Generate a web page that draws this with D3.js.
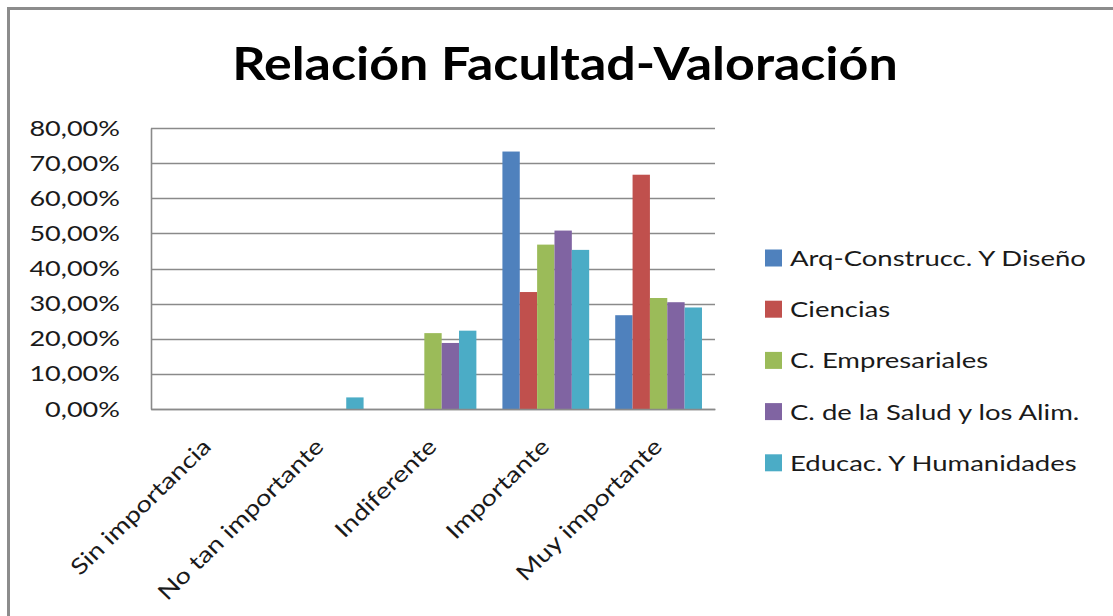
<!DOCTYPE html>
<html><head><meta charset="utf-8">
<script src="https://cdn.jsdelivr.net/npm/d3@7"></script>
<style>
html,body{margin:0;padding:0;background:#fff;}
svg{display:block;font-family:Lato,"Open Sans",sans-serif;}
</style></head>
<body>
<svg id="chart" width="1113" height="616"></svg>
<script>
const categories = ["Sin importancia","No tan importante","Indiferente","Importante","Muy importante"];
const seriesNames = ["Arq-Construcc. Y Diseño","Ciencias","C. Empresariales","C. de la Salud y los Alim.","Educac. Y Humanidades"];
const arqValues = [0, 0, 0, 0.733, 0.267];
const cienciasValues = [0, 0, 0, 0.333, 0.667];
const empresarialesValues = [0, 0, 0.216, 0.468, 0.316];
const saludValues = [0, 0, 0.188, 0.508, 0.304];
const educacValues = [0, 0.033, 0.223, 0.453, 0.289];
const yTicks = [0,0.1,0.2,0.3,0.4,0.5,0.6,0.7,0.8];
const colors = ["#4F81BD","#C0504D","#9BBB59","#8064A2","#4BACC6"];
const title = "Relación Facultad-Valoración";

const seriesValues = [arqValues, cienciasValues, empresarialesValues, saludValues, educacValues];

const svg = d3.select("#chart");
// outer border
svg.append("rect").attr("x",8.5).attr("y",8.5).attr("width",1113).attr("height",616)
  .attr("fill","none").attr("stroke","#8c8c8c").attr("stroke-width",3);

const plot = {left:151, right:715, top:128, bottom:409};

const x0 = d3.scaleBand().domain(categories).range([plot.left, plot.right]).paddingInner(0).paddingOuter(0);
const x1 = d3.scaleBand().domain(seriesNames).range([0, x0.bandwidth()]).paddingInner(0).paddingOuter(0.75);
const y = d3.scaleLinear().domain([0,0.8]).range([plot.bottom, plot.top]);

// gridlines
svg.append("g").selectAll("line").data(yTicks).join("line")
  .attr("x1",plot.left).attr("x2",plot.right)
  .attr("y1",d=>Math.round(y(d))+0.5).attr("y2",d=>Math.round(y(d))+0.5)
  .attr("stroke","#8a8a8a").attr("stroke-width",1.6);

// y axis
const yAxis = d3.axisLeft(y).tickValues(yTicks).tickSize(0).tickPadding(0)
  .tickFormat(d => (d*100).toFixed(2).replace(".",",") + "%");
const yg = svg.append("g").attr("transform",`translate(${plot.left},0)`).call(yAxis);
yg.select(".domain").attr("stroke","#8a8a8a").attr("stroke-width",1.6);
yg.selectAll("text").attr("font-size",22).attr("fill","#1a1a1a").attr("font-family","Lato,sans-serif")
  .attr("x",0).attr("transform","translate(-31,0) scale(1.23,1)");

// bars
const groups = svg.append("g").selectAll("g").data(seriesNames).join("g")
  .attr("fill",(d,i)=>colors[i]);
groups.selectAll("rect").data((s,i)=>seriesValues[i].map((v,j)=>({cat:categories[j],v,s})))
  .join("rect")
  .attr("x",d=>x0(d.cat)+x1(d.s))
  .attr("width",x1.bandwidth())
  .attr("y",d=>y(d.v))
  .attr("height",d=>plot.bottom-y(d.v));

// x axis
const xAxis = d3.axisBottom(x0).tickSize(0).tickPadding(0);
const xg = svg.append("g").attr("transform",`translate(0,${plot.bottom})`).call(xAxis);
xg.select(".domain").attr("stroke","#8a8a8a").attr("stroke-width",1.6);
xg.selectAll("text")
  .attr("font-size",22).attr("fill","#1a1a1a").attr("font-family","Lato,sans-serif")
  .attr("text-anchor","end").attr("dy",0).attr("y",0)
  .attr("transform","translate(5,39) scale(1.03,1) rotate(-45) scale(1.22,1)");

// title
svg.append("text").attr("transform","translate(565,80) scale(1.13,1)").attr("text-anchor","middle")
  .attr("font-size",46).attr("font-weight","bold").attr("fill","#000")
  .attr("font-family","Lato,sans-serif").text(title);

// legend
const leg = svg.append("g").selectAll("g").data(seriesNames).join("g")
  .attr("transform",(d,i)=>`translate(765,${258 + i*51.2})`);
leg.append("rect").attr("x",0).attr("y",-8.5).attr("width",17).attr("height",17)
  .attr("fill",(d,i)=>colors[i]);
leg.append("text").attr("transform","translate(25,0) scale(1.25,1)").attr("dy","0.36em")
  .attr("font-size",22).attr("fill","#1a1a1a").attr("font-family","Lato,sans-serif").text(d=>d);
</script>
</body></html>
